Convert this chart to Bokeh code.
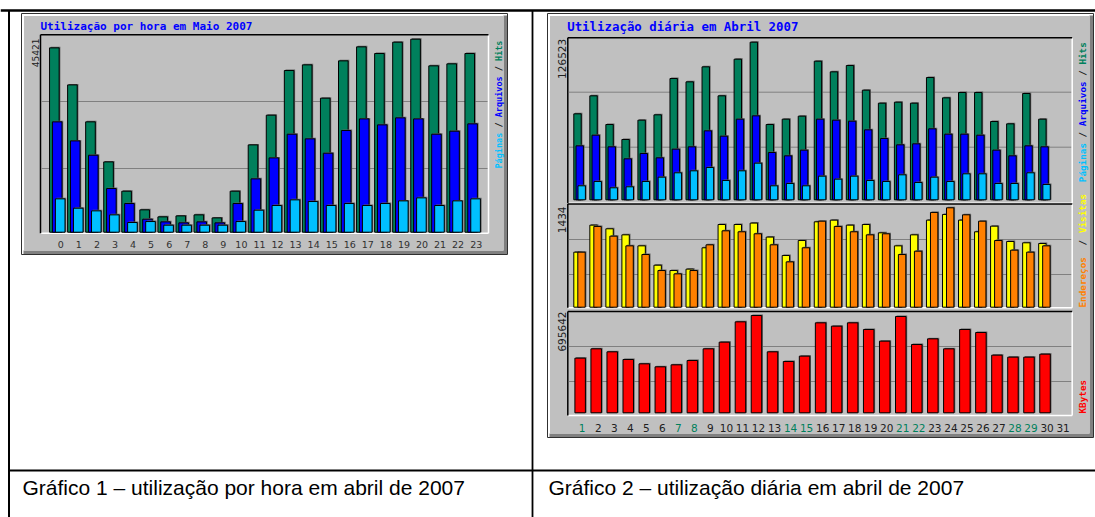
import math
from bokeh.plotting import figure
from bokeh.models import Range1d, ColumnDataSource
from bokeh.transform import dodge
from bokeh.core.properties import value
from bokeh.embed import file_html
from bokeh.resources import INLINE

# ---------------- data ----------------
hours = list(range(24))
hour_labels = [str(h) for h in hours]
hour_hits = [43380, 34670, 25970, 16550, 9650, 5260, 3610, 3840, 4080, 3370, 9650, 20550,
             27540, 38050, 39380, 31540, 40320, 43620, 42050, 44720, 45421, 39150, 39620, 42050]
hour_files = [25970, 21490, 18120, 10280, 6750, 3060, 2430, 2200, 2430, 2200, 6750, 12550,
              17490, 23060, 21970, 18590, 23930, 26670, 25260, 26910, 26670, 23060, 23770, 25500]
hour_pages = [7850, 5650, 5020, 4080, 2280, 2510, 1650, 1650, 1650, 1650, 2510, 5180,
              6280, 7610, 7220, 6280, 6750, 6280, 6750, 7370, 8080, 6280, 7370, 7850]
hour_title = "Utilização por hora em Maio 2007"
hour_max_label = "45421"

days = list(range(1, 31))
day_labels = [str(d) for d in range(1, 32)]
weekend_days = [1, 7, 8, 14, 15, 21, 22, 28, 29]
day_hits = [69010, 83460, 60450, 48420, 63930, 68210, 97370, 94690, 106730, 83460, 112880, 126523,
            60450, 64730, 67140, 111280, 102720, 107800, 88000, 77570, 78370, 77570, 98170, 81850,
            86130, 86130, 62860, 60990, 85330, 64730]
day_files = [43330, 51890, 42530, 32900, 37180, 33700, 40660, 42530, 55370, 51090, 64730, 67410,
             37980, 35310, 39860, 64730, 63930, 63130, 56170, 49220, 44140, 44940, 56980, 52700,
             52700, 51890, 39860, 35310, 43330, 42530]
day_pages = [11240, 14710, 9630, 10430, 14710, 18190, 21670, 23270, 25950, 15510, 23270, 29420,
             11240, 13110, 11240, 18990, 16580, 18990, 15510, 14710, 20060, 13910, 18190, 14710,
             20860, 20860, 13110, 13110, 21670, 12310]
day_visits = [794, 1184, 1131, 1044, 885, 606, 529, 549, 857, 1193, 1193, 1213, 1011, 746, 962,
              1232, 1256, 1184, 1193, 1073, 885, 1044, 1256, 1338, 1256, 1088, 1169, 948, 929, 919]
day_sites = [794, 1165, 1025, 885, 760, 529, 481, 529, 900, 1102, 1088, 1059, 900, 654, 857,
             1241, 1165, 1088, 1044, 1059, 760, 808, 1367, 1434, 1333, 1241, 962, 823, 794, 885]
day_kbytes = [390700, 457400, 435960, 381170, 350200, 328760, 343050, 374020, 457400, 505050,
              650370, 695642, 435960, 366870, 404990, 643220, 619400, 643220, 595580, 512200,
              688500, 488370, 528870, 457400, 595580, 574130, 412140, 397840, 397840, 419290]
day_title = "Utilização diária em Abril 2007"
day_max_labels = ["126523", "1434", "695642"]

caption_left = "Gráfico 1 – utilização por hora em abril de 2007"
caption_right = "Gráfico 2 – utilização diária em abril de 2007"

# colours (webalizer)
C_HITS, C_FILES, C_PAGES = "#00805c", "#0000ff", "#00c0ff"
C_VISITS, C_SITES, C_KB = "#ffff00", "#ff8000", "#ff0000"
C_GREY, C_DARK = "#c0c0c0", "#808080"

# ---------------- canvas ----------------
W, H = 1095, 517
X0, Y0 = 0, 0
X1, Y1 = X0 + W, Y0 + H

p = figure(width=W, height=H, x_range=Range1d(X0, X1), y_range=Range1d(Y1, Y0),
           output_backend="svg", toolbar_location=None, min_border=0,
           x_axis_location=None, y_axis_location=None,
           background_fill_color="white", border_fill_color="white", outline_line_color=None)
p.grid.visible = False


def x_range_for(px_ref, v_ref, k):
    return Range1d(v_ref + (X0 - px_ref) / k, v_ref + (X1 - px_ref) / k)


def y_range_for(py_zero, py_top, v_top):
    k = (py_zero - py_top) / v_top
    return Range1d(-(Y1 - py_zero) / k, (py_zero - Y0) / k), k


# hourly chart scales
KH = 18.06
p.extra_x_ranges["hx"] = x_range_for(49.0, 0, KH)
rng, KHY = y_range_for(231.7, 38.7, max(hour_hits))
p.extra_y_ranges["hy"] = rng

# daily chart scales
KD = 16.03
p.extra_x_ranges["dx"] = x_range_for(573.3, 1, KD)
rng, KTY = y_range_for(199.3, 41.7, max(day_hits))
p.extra_y_ranges["ty"] = rng
rng, KMY = y_range_for(306.7, 207.3, max(max(day_visits), max(day_sites)))
p.extra_y_ranges["my"] = rng
rng, KBY = y_range_for(412.3, 315.0, max(day_kbytes))
p.extra_y_ranges["by"] = rng


# ---------------- chrome helpers ----------------
def panel(x0, x1, y0, y1):
    p.quad(left=[x0], right=[x1], top=[y0], bottom=[y1], fill_color="white",
           line_color="#303030", line_width=1)
    p.quad(left=[x1 - 4], right=[x1 - 0.5], top=[y0 + 2], bottom=[y1 - 0.5],
           fill_color=C_DARK, line_color=None)
    p.quad(left=[x0 + 2], right=[x1 - 0.5], top=[y1 - 4], bottom=[y1 - 0.5],
           fill_color=C_DARK, line_color=None)
    p.quad(left=[x0 + 2.5], right=[x1 - 4], top=[y0 + 2.5], bottom=[y1 - 4],
           fill_color=C_GREY, line_color=None)


def inset_frame(x0, x1, y0, y1, grid):
    p.segment(x0=[x0, x1], y0=[y1, y0], x1=[x1, x1], y1=[y1, y1], line_color="white", line_width=1.5)
    p.segment(x0=[x0, x0], y0=[y0, y0], x1=[x1, x0], y1=[y0, y1], line_color="black", line_width=1.5)
    p.segment(x0=[x0 + 1] * len(grid), x1=[x1 - 1] * len(grid), y0=grid, y1=grid,
              line_color=C_DARK, line_width=1)


def bars(src, xname, field, xr, yr, off_px, w_px, kx, ky, color):
    p.vbar(x=dodge(xname, (off_px + 1.2) / kx), width=w_px / kx, top=dodge(field, 1.0 / ky), bottom=0,
           source=src, x_range_name=xr, y_range_name=yr, fill_color="#606060", line_color=None)
    p.vbar(x=dodge(xname, off_px / kx), width=w_px / kx, top=field, bottom=0,
           source=src, x_range_name=xr, y_range_name=yr, fill_color=color,
           line_color="black", line_width=1)


def vlegend(x, y_bottom, segs, colors, size_px, adv):
    # segments drawn bottom-to-top; leading/trailing blanks are turned into offsets
    ys, txt, cols, pos = [], [], [], 0
    for s, c in zip(segs, colors):
        stripped = s.strip()
        lead = len(s) - len(s.lstrip())
        ys.append(y_bottom - (pos + lead) * adv)
        txt.append(stripped)
        cols.append(c)
        pos += len(s)
    p.text(x=[x] * len(txt), y=ys, text=txt, text_color=cols, angle=math.pi / 2,
           text_align="left", text_baseline="middle", text_font=value("DejaVu Sans Mono"),
           text_font_size=f"{size_px}px", text_font_style="bold")


MONO = value("DejaVu Sans Mono")
SANS = value("DejaVu Sans")

# ---------------- hourly chart ----------------
panel(21, 507, 13, 254)
p.text(x=[40], y=[25.5], text=[hour_title], text_color=C_FILES, text_font=MONO,
       text_font_size="11px", text_font_style="bold", text_baseline="middle")
inset_frame(40, 488, 34.3, 232.7, [101, 168])
hsrc = ColumnDataSource(dict(h=hours, hits=hour_hits, files=hour_files, pages=hour_pages,
                             lab=hour_labels))
bars(hsrc, "h", "hits", "hx", "hy", 4.85, 9.6, KH, KHY, C_HITS)
bars(hsrc, "h", "files", "hx", "hy", 7.7, 9.6, KH, KHY, C_FILES)
bars(hsrc, "h", "pages", "hx", "hy", 10.7, 9.6, KH, KHY, C_PAGES)
p.text(x=dodge("h", 11.3 / KH), y=243.5, text="lab", source=hsrc, x_range_name="hx",
       text_align="center", text_baseline="middle", text_font=SANS, text_font_size="9.5px",
       text_color="#303030")
p.text(x=[35], y=[38], text=[hour_max_label], angle=math.pi / 2, text_align="right",
       text_baseline="middle", text_font=SANS, text_font_size="9px", text_color="#202020")
vlegend(498, 168, ["Páginas", " / ", "Arquivos", " / ", "Hits"],
        [C_PAGES, "#202020", C_FILES, "#202020", C_HITS], 8.5, 5.12)

# ---------------- daily chart ----------------
panel(547, 1093, 13, 437)
p.text(x=[566.7], y=[25.7], text=[day_title], text_color=C_FILES, text_font=MONO,
       text_font_size="12.4px", text_font_style="bold", text_baseline="middle")
inset_frame(567.3, 1071.7, 37.3, 202.7, [91.7, 146.7])
inset_frame(567.3, 1071.7, 203.5, 307.3, [239, 274])
inset_frame(567.3, 1071.7, 311, 415, [346, 381])
dsrc = ColumnDataSource(dict(d=days, hits=day_hits, files=day_files, pages=day_pages,
                             visits=day_visits, sites=day_sites, kb=day_kbytes))
bars(dsrc, "d", "hits", "dx", "ty", 3.7, 7.4, KD, KTY, C_HITS)
bars(dsrc, "d", "files", "dx", "ty", 5.9, 7.4, KD, KTY, C_FILES)
bars(dsrc, "d", "pages", "dx", "ty", 7.9, 7.4, KD, KTY, C_PAGES)
bars(dsrc, "d", "visits", "dx", "my", 3.7, 7.4, KD, KMY, C_VISITS)
bars(dsrc, "d", "sites", "dx", "my", 7.7, 7.4, KD, KMY, C_SITES)
bars(dsrc, "d", "kb", "dx", "by", 6.35, 10.5, KD, KBY, C_KB)

lab_days = list(range(1, 32))
lsrc = ColumnDataSource(dict(d=lab_days, lab=day_labels,
                             col=[C_HITS if d in weekend_days else "#202020" for d in lab_days]))
p.text(x=dodge("d", 8.4 / KD), y=427.7, text="lab", text_color="col", source=lsrc,
       x_range_name="dx", text_align="center", text_baseline="middle", text_font=SANS,
       text_font_size="10.5px")
for lab, ytop in zip(day_max_labels, [38.3, 206, 311]):
    p.text(x=[561.7], y=[ytop], text=[lab], angle=math.pi / 2, text_align="right",
           text_baseline="middle", text_font=SANS, text_font_size="10.5px", text_color="#202020")
vlegend(1082, 181.7, ["Páginas", " / ", "Arquivos", " / ", "Hits"],
        [C_PAGES, "#202020", C_FILES, "#202020", C_HITS], 9.3, 5.6)
vlegend(1082, 307, ["Endereços", " / ", "Visitas"],
        [C_SITES, "#202020", C_VISITS], 9.3, 6.2)
vlegend(1082, 413, ["KBytes"], [C_KB], 9.3, 6.6)

# ---------------- table ----------------
p.segment(x0=[X0, 8.5, 532, 8], y0=[10, 10, 10, 470], x1=[X1, 8.5, 532, X1], y1=[10, Y1, Y1, 470],
          line_color="black", line_width=[2.5, 2, 1.8, 1.8])
CAP = value("Liberation Sans")
p.text(x=[22, 548], y=[487, 487], text=[caption_left, caption_right], text_font=CAP,
       text_font_size="21px", text_color="black", text_baseline="middle")

open("out.html", "w").write(file_html(p, INLINE))
